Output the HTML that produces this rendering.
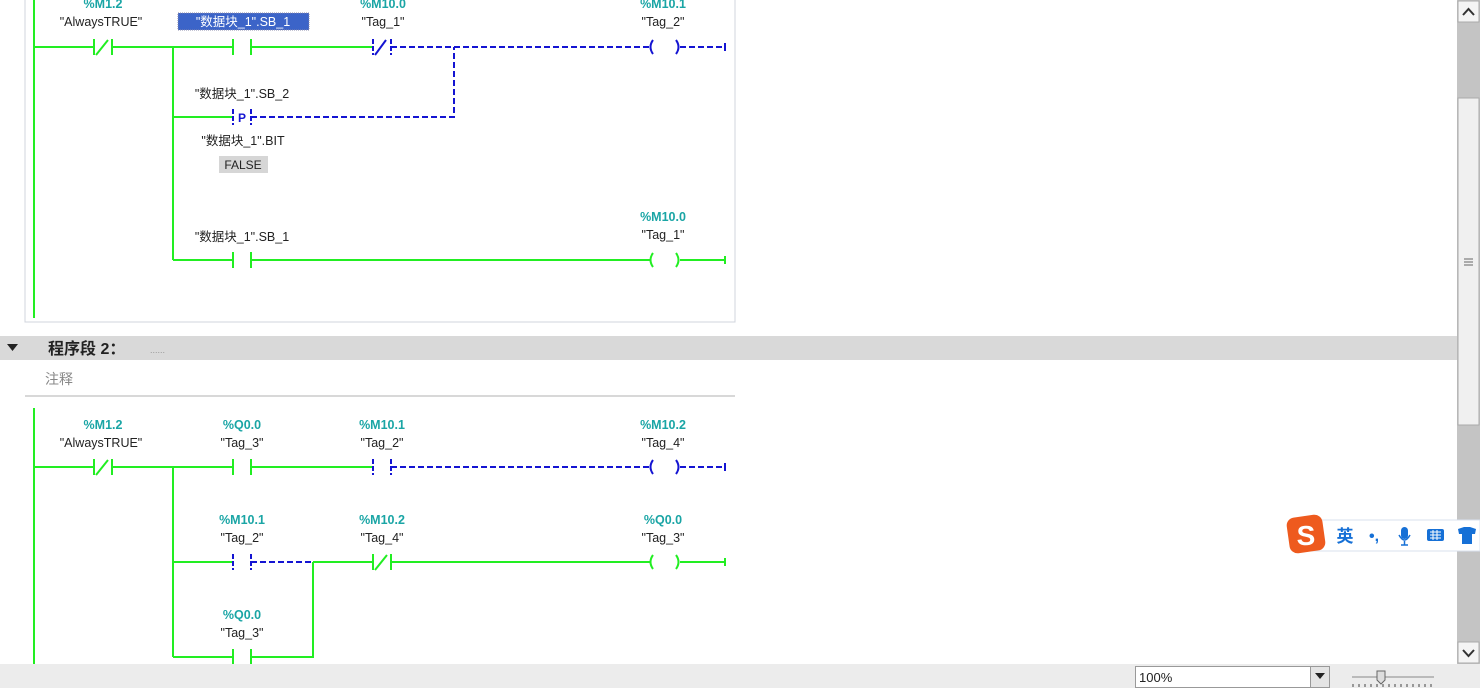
<!DOCTYPE html>
<html><head><meta charset="utf-8"><style>
body{margin:0;width:1480px;height:688px;overflow:hidden;background:#fff;font-family:"Liberation Sans","Noto Sans CJK SC",sans-serif;}
svg{position:absolute;left:0;top:0}
text{font-family:"Liberation Sans","Noto Sans CJK SC",sans-serif;font-size:12.5px;fill:#222;text-anchor:middle}
.t{fill:#1aa5a5;font-weight:bold}
.g{stroke:#22ee22;stroke-width:2;fill:none}
.b{stroke:#1414d2;stroke-width:2;fill:none;stroke-dasharray:6,3}
.bs{stroke:#1414d2;stroke-width:2;fill:none}
.bd{stroke:#1414d2;stroke-width:2;fill:none;stroke-dasharray:5,2}
</style></head><body>
<svg width="1480" height="688" viewBox="0 0 1480 688">
<path d="M25,0 V322 H735 V0" fill="none" stroke="#d0d4dc"/>
<line x1="34" y1="0" x2="34" y2="318" class="g"/>
<path class="g" d="M34,47H94 M94,39V55 M112,39V55 M96,55L108,40 M112,47H233 M233,39V55 M251,39V55 M251,47H373"/>
<path class="bd" d="M373,39V55 M391,39V55"/>
<path class="bs" d="M375,55L386,40"/>
<path class="b" d="M391,47H650 M680,47H725"/>
<path class="bs" d="M653,40Q648,47 653,54 M676,40Q681,47 676,54 M725,43V51"/>
<line x1="173" y1="47" x2="173" y2="260" class="g"/>
<path class="g" d="M173,117H232"/>
<path class="bd" d="M233,109V125 M251,109V125"/>
<text x="242" y="122" style="fill:#1414d2;font-weight:bold;font-size:12px">P</text>
<path class="b" d="M251,117H454V47"/>
<path class="g" d="M173,260H233 M233,252V268 M251,252V268 M251,260H650 M653,253Q648,260 653,267 M676,253Q681,260 676,267 M680,260H725 M725,256V264"/>
<text x="103" y="8" class="t">%M1.2</text>
<text x="101" y="26">"AlwaysTRUE"</text>
<rect x="178" y="13" width="131" height="17" fill="#3c64c8" stroke="#88a" stroke-dasharray="1,1"/>
<text x="243" y="26" style="fill:#fff">"数据块_1".SB_1</text>
<text x="383" y="8" class="t">%M10.0</text>
<text x="383" y="26">"Tag_1"</text>
<text x="663" y="8" class="t">%M10.1</text>
<text x="663" y="26">"Tag_2"</text>
<text x="242" y="98">"数据块_1".SB_2</text>
<text x="243" y="145">"数据块_1".BIT</text>
<rect x="219" y="156" width="49" height="17" fill="#d6d6d6"/>
<text x="243" y="169" style="font-size:12px">FALSE</text>
<text x="663" y="221" class="t">%M10.0</text>
<text x="663" y="239">"Tag_1"</text>
<text x="242" y="241">"数据块_1".SB_1</text>
<rect x="0" y="336" width="1457" height="24" fill="#d9d9d9"/>
<path d="M7,344H18L12.5,351Z" fill="#222"/>
<text x="48" y="354" style="text-anchor:start;font-weight:bold;font-size:16px">程序段 2：</text>
<text x="150" y="353" style="text-anchor:start;font-size:9px;fill:#999">......</text>
<text x="45" y="384" style="text-anchor:start;fill:#888;font-size:14px">注释</text>
<line x1="25" y1="396" x2="735" y2="396" stroke="#d8d8d8" stroke-width="2"/>
<line x1="34" y1="408" x2="34" y2="664" class="g"/>
<path class="g" d="M34,467H94 M94,459V475 M112,459V475 M96,475L108,460 M112,467H233 M233,459V475 M251,459V475 M251,467H373"/>
<path class="bd" d="M373,459V475 M391,459V475"/>
<path class="b" d="M391,467H650 M680,467H725"/>
<path class="bs" d="M653,460Q648,467 653,474 M676,460Q681,467 676,474 M725,463V471"/>
<line x1="173" y1="467" x2="173" y2="657" class="g"/>
<path class="g" d="M173,562H233"/>
<path class="bd" d="M233,554V570 M251,554V570"/>
<path class="b" d="M251,562H313"/>
<path class="g" d="M313,562H373 M373,554V570 M391,554V570 M375,570L387,555 M391,562H650 M653,555Q648,562 653,569 M676,555Q681,562 676,569 M680,562H725 M725,558V566"/>
<path class="g" d="M173,657H233 M233,649V665 M251,649V665 M251,657H313V562"/>
<text x="103" y="429" class="t">%M1.2</text>
<text x="101" y="447">"AlwaysTRUE"</text>
<text x="242" y="429" class="t">%Q0.0</text>
<text x="242" y="447">"Tag_3"</text>
<text x="382" y="429" class="t">%M10.1</text>
<text x="382" y="447">"Tag_2"</text>
<text x="663" y="429" class="t">%M10.2</text>
<text x="663" y="447">"Tag_4"</text>
<text x="242" y="524" class="t">%M10.1</text>
<text x="242" y="542">"Tag_2"</text>
<text x="382" y="524" class="t">%M10.2</text>
<text x="382" y="542">"Tag_4"</text>
<text x="663" y="524" class="t">%Q0.0</text>
<text x="663" y="542">"Tag_3"</text>
<text x="242" y="619" class="t">%Q0.0</text>
<text x="242" y="637">"Tag_3"</text>
<rect x="1457" y="0" width="23" height="664" fill="#c4c4c4"/>
<rect x="1458" y="1" width="21" height="21" fill="#f4f4f4" stroke="#aaa"/>
<path d="M1463,15L1468.5,9L1474,15" stroke="#333" stroke-width="2" fill="none"/>
<rect x="1458" y="98" width="21" height="327" fill="#f0f0f0" stroke="#aaa"/>
<path d="M1464,259H1473M1464,262H1473M1464,265H1473" stroke="#666"/>
<rect x="1458" y="642" width="21" height="21" fill="#f4f4f4" stroke="#aaa"/>
<path d="M1463,650L1468.5,656L1474,650" stroke="#333" stroke-width="2" fill="none"/>
<rect x="0" y="664" width="1480" height="24" fill="#ececec"/>
<rect x="1135.5" y="666.5" width="175" height="21" fill="#fff" stroke="#999"/>
<text x="1139" y="682" style="text-anchor:start;font-size:13px">100%</text>
<rect x="1310.5" y="666.5" width="19" height="21" fill="#e4e4e4" stroke="#999"/>
<path d="M1315,673H1325L1320,679Z" fill="#222"/>
<line x1="1352" y1="677" x2="1434" y2="677" stroke="#888"/>
<path d="M1353,684V687M1359,684V687M1365,684V687M1371,684V687M1377,684V687M1383,684V687M1389,684V687M1395,684V687M1401,684V687M1407,684V687M1413,684V687M1419,684V687M1425,684V687M1431,684V687" stroke="#444"/>
<path d="M1377,671H1385V680L1381,684L1377,680Z" fill="#ddd" stroke="#666"/>
<rect x="1300" y="520" width="180" height="31" fill="#fff" stroke="#d8e0ee"/>
<rect x="1288" y="516" width="36" height="36" rx="8" fill="#ee5a1e" transform="rotate(-8 1306 534)"/>
<text x="1306" y="545" style="fill:#fff;font-weight:bold;font-size:28px">S</text>
<text x="1345" y="542" style="fill:#1670d6;font-weight:bold;font-size:17px">英</text>
<text x="1374" y="541" style="fill:#1670d6;font-weight:bold;font-size:16px">•,</text>
<rect x="1401" y="527" width="7" height="12" rx="3.5" fill="#1670d6"/>
<path d="M1399,535Q1404.5,545 1410,535M1404.5,541V545M1401,545H1408" stroke="#1670d6" stroke-width="1.5" fill="none"/>
<rect x="1427" y="529" width="17" height="12" rx="2" fill="#1670d6"/>
<path d="M1430,532H1441M1430,535H1441M1430,538H1441M1433,530V540M1437,530V540" stroke="#fff" stroke-width="1"/>
<path d="M1458,529L1464,527H1470L1476,529L1475,534L1472,534V544H1462V534L1459,534Z" fill="#1670d6"/>
</svg>
</body></html>
